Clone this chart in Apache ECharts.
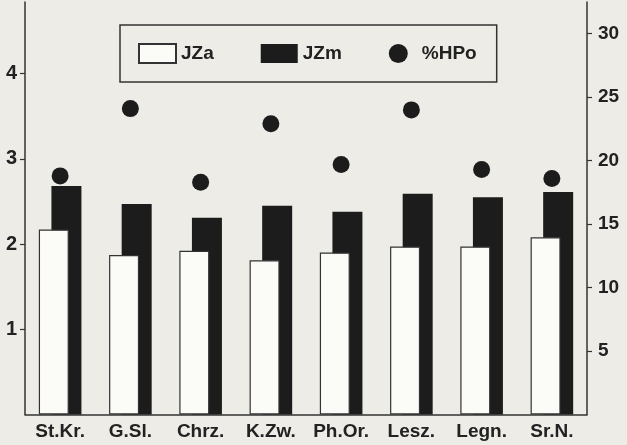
<!DOCTYPE html>
<html>
<head>
<meta charset="utf-8">
<script src="https://cdn.jsdelivr.net/npm/echarts@6/dist/echarts.min.js"></script>
<style>
html,body{margin:0;padding:0;background:#edece7;}
#c{width:627px;height:445px;}
</style>
</head>
<body>
<div id="c"></div>
<script>
const categories = ['St.Kr.', 'G.Sl.', 'Chrz.', 'K.Zw.', 'Ph.Or.', 'Lesz.', 'Legn.', 'Sr.N.'];
const jza = [2.17, 1.87, 1.92, 1.81, 1.90, 1.97, 1.97, 2.08];
const jzm = [2.68, 2.47, 2.31, 2.45, 2.38, 2.59, 2.55, 2.61];
const hpo = [18.8, 24.1, 18.3, 22.9, 19.7, 24.0, 19.3, 18.6];
const leftTicks = [1, 2, 3, 4];
const rightTicks = [5, 10, 15, 20, 25, 30];

const font = '"Liberation Sans", Arial, sans-serif';
const ink = '#222';

const chart = echarts.init(document.getElementById('c'));
chart.setOption({
  backgroundColor: '#edece7',
  animation: false,
  legend: {
    left: 120, top: 25,
    orient: 'horizontal',
    padding: [18, 20, 18, 18],
    borderColor: '#333', borderWidth: 1.5,
    itemWidth: 37, itemHeight: 19, itemGap: 47,
    textStyle: { fontFamily: font, fontSize: 19, fontWeight: 'bold', color: ink },
    data: [
      { name: 'JZa', icon: 'rect' },
      { name: 'JZm', icon: 'rect' },
      { name: '%HPo', icon: 'circle' }
    ]
  },
  grid: { left: 25, right: 40, top: 2, bottom: 30.5, containLabel: false },
  xAxis: {
    type: 'category',
    data: categories,
    axisLine: { lineStyle: { color: '#333', width: 1.5 } },
    axisTick: { show: false },
    axisLabel: { interval: 0, hideOverlap: false, fontFamily: font, fontSize: 19, fontWeight: 'bold', color: ink, margin: 8 }
  },
  yAxis: [
    {
      type: 'value', min: 0, max: 4.84, interval: 1,
      splitLine: { show: false },
      axisLine: { show: true, lineStyle: { color: '#333', width: 1.5 } },
      axisTick: { show: true, length: 5, customValues: leftTicks, lineStyle: { color: '#333', width: 1.2 } },
      axisLabel: { customValues: leftTicks, fontFamily: font, fontSize: 20, fontWeight: 'bold', color: ink, margin: 8 }
    },
    {
      type: 'value', min: 0, max: 32.5, interval: 5,
      position: 'right',
      splitLine: { show: false },
      axisLine: { show: true, lineStyle: { color: '#333', width: 1.5 } },
      axisTick: { show: true, length: 5, customValues: rightTicks, lineStyle: { color: '#333', width: 1.2 } },
      axisLabel: { customValues: rightTicks, fontFamily: font, fontSize: 19, fontWeight: 'bold', color: ink, margin: 11 }
    }
  ],
  series: [
    {
      name: 'JZa', type: 'bar', yAxisIndex: 0, data: jza,
      barWidth: 30, barGap: '-58%', z: 3,
      itemStyle: { color: '#fbfbf8', borderColor: '#333', borderWidth: 1.2 }
    },
    {
      name: 'JZm', type: 'bar', yAxisIndex: 0, data: jzm,
      barWidth: 30, barGap: '-58%', z: 2,
      itemStyle: { color: '#1c1c1c', borderColor: '#1c1c1c', borderWidth: 0 }
    },
    {
      name: '%HPo', type: 'scatter', yAxisIndex: 1, data: hpo,
      symbol: 'circle', symbolSize: 17, z: 4,
      itemStyle: { color: '#1c1c1c', opacity: 1 }
    }
  ]
});
</script>
</body>
</html>
